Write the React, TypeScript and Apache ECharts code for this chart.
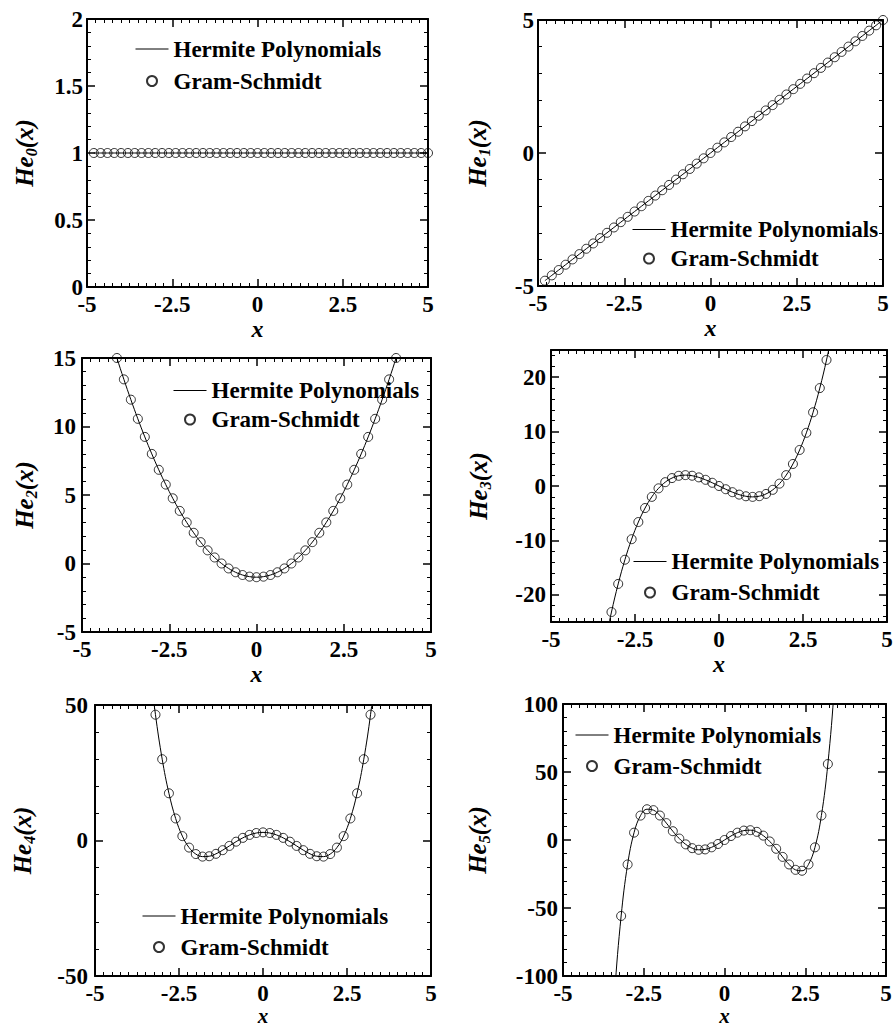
import React, { useEffect, useRef } from 'react';
import * as echarts from 'echarts';

// sample abscissae (circles of the Gram-Schmidt result)
const xs = [-4.8, -4.6, -4.4, -4.2, -4.0, -3.8, -3.6, -3.4, -3.2, -3.0, -2.8, -2.6, -2.4, -2.2, -2.0, -1.8, -1.6, -1.4, -1.2, -1.0, -0.8, -0.6, -0.4, -0.2, 0, 0.2, 0.4, 0.6, 0.8, 1.0, 1.2, 1.4, 1.6, 1.8, 2.0, 2.2, 2.4, 2.6, 2.8, 3.0, 3.2, 3.4, 3.6, 3.8, 4.0, 4.2, 4.4, 4.6, 4.8, 5.0];

const he0 = [1, 1, 1, 1, 1, 1, 1, 1, 1, 1, 1, 1, 1, 1, 1, 1, 1, 1, 1, 1, 1, 1, 1, 1, 1, 1, 1, 1, 1, 1, 1, 1, 1, 1, 1, 1, 1, 1, 1, 1, 1, 1, 1, 1, 1, 1, 1, 1, 1, 1];
const he1 = [-4.8, -4.6, -4.4, -4.2, -4.0, -3.8, -3.6, -3.4, -3.2, -3.0, -2.8, -2.6, -2.4, -2.2, -2.0, -1.8, -1.6, -1.4, -1.2, -1.0, -0.8, -0.6, -0.4, -0.2, 0, 0.2, 0.4, 0.6, 0.8, 1.0, 1.2, 1.4, 1.6, 1.8, 2.0, 2.2, 2.4, 2.6, 2.8, 3.0, 3.2, 3.4, 3.6, 3.8, 4.0, 4.2, 4.4, 4.6, 4.8, 5.0];
const he2 = [22.04, 20.16, 18.36, 16.64, 15, 13.44, 11.96, 10.56, 9.24, 8, 6.84, 5.76, 4.76, 3.84, 3, 2.24, 1.56, 0.96, 0.44, 0, -0.36, -0.64, -0.84, -0.96, -1, -0.96, -0.84, -0.64, -0.36, 0, 0.44, 0.96, 1.56, 2.24, 3, 3.84, 4.76, 5.76, 6.84, 8, 9.24, 10.56, 11.96, 13.44, 15, 16.64, 18.36, 20.16, 22.04, 24];
const he3 = [-96.192, -83.536, -71.984, -61.488, -52, -43.472, -35.856, -29.104, -23.168, -18, -13.552, -9.776, -6.624, -4.048, -2, -0.432, 0.704, 1.456, 1.872, 2, 1.888, 1.584, 1.136, 0.592, 0, -0.592, -1.136, -1.584, -1.888, -2, -1.872, -1.456, -0.704, 0.432, 2, 4.048, 6.624, 9.776, 13.552, 18, 23.168, 29.104, 35.856, 43.472, 52, 61.488, 71.984, 83.536, 96.192, 110];
const he4 = [395.602, 323.786, 261.65, 208.33, 163, 124.874, 93.202, 67.274, 46.418, 30, 17.426, 8.138, 1.618, -2.614, -5, -5.942, -5.806, -4.918, -3.566, -2, -0.43, 0.97, 2.066, 2.762, 3, 2.762, 2.066, 0.97, -0.43, -2, -3.566, -4.918, -5.806, -5.942, -5, -2.614, 1.618, 8.138, 17.426, 30, 46.418, 67.274, 93.202, 124.874, 163, 208.33, 261.65, 323.786, 395.602, 478];
const he5 = [-1514.12, -1155.27, -863.322, -629.032, -444, -300.632, -192.102, -112.314, -55.864, -18, 5.416, 17.946, 22.614, 21.944, 18, 12.424, 6.474, 1.062, -3.208, -6, -7.208, -6.918, -5.37, -2.92, 0, 2.92, 5.37, 6.918, 7.208, 6, 3.208, -1.062, -6.474, -12.424, -18, -21.944, -22.614, -17.946, -5.416, 18, 55.864, 112.314, 192.102, 300.632, 444, 629.032, 863.322, 1155.27, 1514.12, 1950];

const seriesValues = [he0, he1, he2, he3, he4, he5];
const subscripts = ['0', '1', '2', '3', '4', '5'];
const legendNames = ['Hermite Polynomials', 'Gram-Schmidt'];

// axis ranges
const xMin = -5;
const xMax = 5;
const xInterval = 2.5;
const yMins = [0, -5, -5, -25, -50, -100];
const yMaxs = [2, 5, 15, 25, 50, 100];
const yIntervals: (number | null)[] = [0.5, 5, 5, null, 50, 50];

// layout (pixels)
const layouts = [
  { left: 87, top: 19, width: 341, height: 268, lgLeft: 135, lgTop: 37.5, lgGap: 9, nameGap: 48, lblMargin: 4, xGap: 28.5, xFont: 24 },
  { left: 538, top: 20, width: 345, height: 266, lgLeft: 632, lgTop: 218, lgGap: 6, nameGap: 46, lblMargin: 4, xGap: 28.5, xFont: 24 },
  { left: 82, top: 358, width: 349, height: 274, lgLeft: 173, lgTop: 379, lgGap: 6, nameGap: 43, lblMargin: 6, xGap: 26, xFont: 24 },
  { left: 551, top: 350, width: 336, height: 272, lgLeft: 633, lgTop: 550, lgGap: 8, nameGap: 58, lblMargin: 5, xGap: 29, xFont: 24 },
  { left: 95, top: 705, width: 336, height: 271, lgLeft: 142, lgTop: 904.5, lgGap: 8, nameGap: 58, lblMargin: 7, xGap: 25.5, xFont: 21 },
  { left: 563, top: 704, width: 323, height: 272, lgLeft: 575, lgTop: 723.5, lgGap: 8, nameGap: 71, lblMargin: 5, xGap: 25.5, xFont: 21 },
];

const F = "'Liberation Serif', 'Times New Roman', Times, serif";

export default function App() {
  const ref = useRef<HTMLDivElement>(null);
  useEffect(() => {
    if (!ref.current) return;
    const chart = echarts.init(ref.current, null, { renderer: 'svg' });
    const grids: any[] = [];
    const xAxes: any[] = [];
    const yAxes: any[] = [];
    const series: any[] = [];
    const legends: any[] = [];

    const labelStyle = { fontFamily: F, fontWeight: 'bold', fontSize: 23, color: '#000' };
    const axisLine = { show: true, onZero: false, lineStyle: { color: '#000', width: 2 } };
    const axisTick = { show: true, inside: true, length: 8, lineStyle: { color: '#000', width: 1.5 } };
    const minorLine = { color: '#000', width: 1 };

    layouts.forEach((L, i) => {
      grids.push({ left: L.left, top: L.top, width: L.width, height: L.height, containLabel: false, outerBoundsMode: 'none', show: false });

      const xBase = {
        type: 'value', gridIndex: i, min: xMin, max: xMax, interval: xInterval,
        axisLine, axisTick, splitLine: { show: false },
        minorTick: { show: true, splitNumber: 10, length: 4, lineStyle: minorLine },
      };
      xAxes.push({
        ...xBase, position: 'bottom',
        axisLabel: { ...labelStyle, margin: 6 },
        name: 'x', nameLocation: 'middle', nameGap: L.xGap,
        nameTextStyle: { fontFamily: F, fontWeight: 'bold', fontStyle: 'italic', fontSize: L.xFont, lineHeight: 18, color: '#000' },
      });
      xAxes.push({ ...xBase, position: 'top', axisLabel: { show: false } });

      const iv = yIntervals[i];
      const yBase: any = {
        type: 'value', gridIndex: i, min: yMins[i], max: yMaxs[i],
        axisLine, axisTick, splitLine: { show: false },
        minorTick: { show: true, splitNumber: 5, length: 4, lineStyle: minorLine },
      };
      if (iv != null) yBase.interval = iv; else yBase.splitNumber = 5;
      const lo = yMins[i];
      const hi = yMaxs[i];
      yAxes.push({
        ...yBase, position: 'left',
        axisLabel: {
          ...labelStyle, margin: L.lblMargin,
          formatter: (v: number) => (iv == null && (v === lo || v === hi) ? '' : String(v)),
        },
        name: `{a|He}{s|${subscripts[i]}}{a|(x)}`,
        nameLocation: 'middle', nameRotate: 90, nameGap: L.nameGap, nameMoveOverlap: false,
        nameTextStyle: {
          fontFamily: F, fontWeight: 'bold', fontStyle: 'italic', fontSize: 25, color: '#000',
          rich: {
            a: { fontFamily: F, fontWeight: 'bold', fontStyle: 'italic', fontSize: 25, lineHeight: 30, color: '#000' },
            s: { fontFamily: F, fontWeight: 'bold', fontStyle: 'italic', fontSize: 16, lineHeight: 16, verticalAlign: 'bottom', color: '#000' },
          },
        },
      });
      yAxes.push({ ...yBase, position: 'right', axisLabel: { show: false } });

      const ys = seriesValues[i];
      const pts = xs.map((x, j) => [x, ys[j]]);
      series.push({
        name: legendNames[0], type: 'line', xAxisIndex: 2 * i, yAxisIndex: 2 * i,
        data: pts, symbol: 'none', smooth: 0.4, clip: true,
        lineStyle: { color: '#000', width: 1 }, itemStyle: { color: '#000' }, z: 2,
      });
      series.push({
        name: legendNames[1], type: 'scatter', xAxisIndex: 2 * i, yAxisIndex: 2 * i,
        data: pts, symbol: 'circle', symbolSize: 9, clip: true,
        itemStyle: { color: 'rgba(255,255,255,0)', borderColor: '#000', borderWidth: 1 }, z: 3,
      });

      legends.push({
        data: [
          {
            name: legendNames[0],
            itemStyle: { color: 'rgba(0,0,0,0)', borderColor: 'rgba(0,0,0,0)', borderWidth: 0, opacity: 0 },
            lineStyle: { color: '#000', width: 1 },
          },
          { name: legendNames[1] },
        ],
        orient: 'vertical', left: L.lgLeft, top: L.lgTop, itemGap: L.lgGap,
        itemWidth: 33, itemHeight: 10, padding: 0, selectedMode: false,
        textStyle: { fontFamily: F, fontWeight: 'bold', fontSize: 23, color: '#000' },
      });
    });

    chart.setOption({
      animation: false,
      backgroundColor: '#fff',
      textStyle: { fontFamily: F },
      grid: grids,
      xAxis: xAxes,
      yAxis: yAxes,
      series,
      legend: legends,
    });
    return () => chart.dispose();
  }, []);
  return <div ref={ref} style={{ position: 'absolute', left: 0, top: 0, width: 893, height: 1027 }} />;
}
